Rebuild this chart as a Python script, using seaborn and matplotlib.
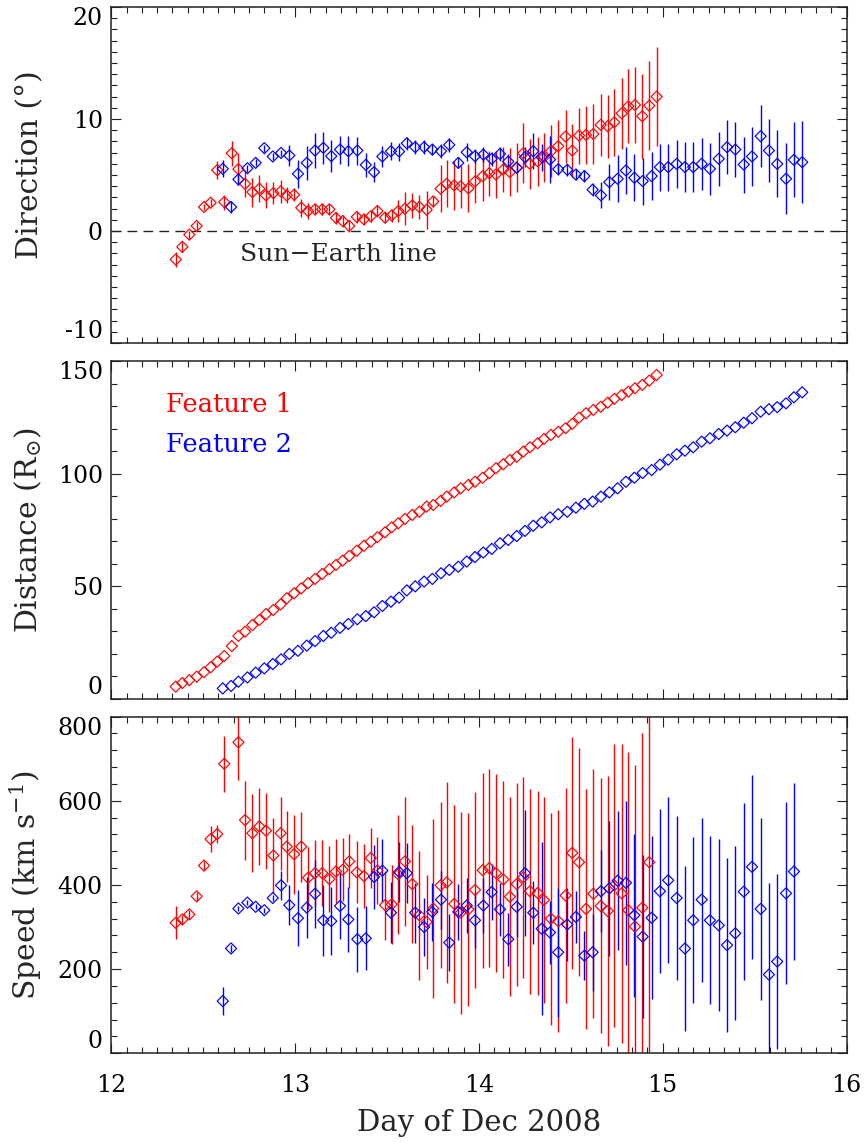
import numpy as np
import pandas as pd
import matplotlib
matplotlib.use("Agg")
import matplotlib.pyplot as plt
from matplotlib.ticker import MultipleLocator
import seaborn as sns

nan = np.nan

# time of each sample, day of Dec 2008
t1 = [12.351, 12.387, 12.425, 12.465, 12.505, 12.541, 12.577, 12.615, 12.656, 12.692,
      12.728, 12.768, 12.806, 12.842, 12.882, 12.922, 12.955, 12.995, 13.034, 13.071,
      13.109, 13.148, 13.187, 13.223, 13.259, 13.295, 13.336, 13.375, 13.412, 13.448,
      13.490, 13.526, 13.562, 13.598, 13.638, 13.676, 13.716, 13.752, 13.792, 13.825,
      13.866, 13.901, 13.943, 13.979, 14.021, 14.057, 14.093, 14.133, 14.169, 14.206,
      14.242, 14.278, 14.320, 14.354, 14.392, 14.432, 14.472, 14.508, 14.545, 14.583,
      14.623, 14.663, 14.701, 14.737, 14.777, 14.813, 14.849, 14.889, 14.927, 14.967]
t2 = [12.607, 12.652, 12.692, 12.741, 12.786, 12.833, 12.879, 12.924, 12.969, 13.016,
      13.064, 13.109, 13.154, 13.197, 13.245, 13.290, 13.339, 13.385, 13.430, 13.475,
      13.522, 13.566, 13.608, 13.654, 13.702, 13.747, 13.794, 13.839, 13.888, 13.934,
      13.979, 14.024, 14.070, 14.115, 14.160, 14.206, 14.251, 14.296, 14.342, 14.387,
      14.432, 14.481, 14.528, 14.574, 14.619, 14.664, 14.710, 14.755, 14.800, 14.846,
      14.891, 14.940, 14.985, 15.030, 15.076, 15.121, 15.166, 15.212, 15.257, 15.305,
      15.350, 15.395, 15.441, 15.486, 15.533, 15.578, 15.623, 15.671, 15.714, 15.759]

# direction (deg)
dir1 = [-2.55, -1.42, -0.33, 0.45, 2.14, 2.52, 5.43, 2.58, 6.94, 5.52,
        4.21, 3.47, 3.77, 3.18, 3.38, 3.53, 3.18, 3.23, 2.08, 1.78,
        1.93, 1.93, 1.93, 1.16, 0.89, 0.45, 1.25, 1.04, 1.31, 1.78,
        1.19, 1.39, 1.78, 1.99, 2.28, 2.14, 1.90, 2.64, 3.77, 4.21,
        4.07, 3.98, 3.80, 4.42, 4.90, 5.16, 5.04, 5.49, 5.25, 5.64,
        6.94, 5.99, 6.23, 6.59, 7.12, 7.57, 8.43, 7.18, 8.52, 8.58,
        8.66, 9.47, 9.35, 9.70, 10.50, 11.13, 11.25, 10.24, 11.19, 11.99]
dir1_err = [0.67, 0.45, 0.37, 0.37, 0.30, 0.30, 0.80, 0.67, 1.10, 1.40,
            1.20, 1.30, 1.20, 1.15, 0.95, 1.05, 0.70, 0.60, 0.80, 0.75,
            0.50, 0.50, 0.50, 0.50, 0.50, 0.55, 0.55, 0.50, 0.50, 0.50,
            0.50, 0.60, 1.00, 1.50, 1.10, 1.05, 1.70, 0.50, 2.10, 2.10,
            2.20, 1.90, 2.15, 1.90, 2.20, 2.00, 2.10, 2.00, 2.15, 2.20,
            2.70, 2.20, 2.20, 2.20, 2.30, 2.30, 2.40, 2.40, 2.50, 2.60,
            2.70, 2.80, 2.80, 3.00, 3.20, 3.30, 3.40, 3.80, 4.00, 4.40]
dir2 = [5.55, 2.14, 4.60, 5.60, 6.08, 7.39, 6.65, 6.97, 6.74, 5.10,
        6.08, 7.18, 7.42, 6.68, 7.27, 7.12, 7.18, 5.90, 5.25, 6.65,
        7.12, 7.09, 7.83, 7.48, 7.48, 7.27, 7.12, 7.69, 6.08, 7.03,
        6.68, 6.82, 6.44, 6.88, 6.20, 5.64, 6.59, 7.12, 6.59, 6.38,
        5.52, 5.46, 5.04, 4.90, 3.68, 3.18, 4.36, 4.66, 5.40, 4.75,
        4.45, 4.90, 5.70, 5.70, 5.99, 5.70, 5.70, 5.99, 5.55, 6.44,
        7.48, 7.27, 5.93, 6.65, 8.46, 7.18, 5.99, 4.66, 6.35, 6.14]
dir2_err = [0.77, 0.50, 0.50, 0.30, 0.30, 0.30, 0.30, 0.30, 0.90, 1.25,
            1.55, 1.60, 1.45, 1.40, 1.25, 1.35, 1.25, 1.10, 0.90, 0.95,
            0.80, 0.80, 0.60, 0.60, 0.60, 0.50, 0.60, 0.65, 0.50, 0.80,
            0.60, 0.65, 0.65, 0.60, 0.65, 0.35, 0.90, 1.60, 1.20, 2.10,
            0.50, 0.55, 0.50, 0.55, 0.60, 1.15, 1.60, 2.10, 2.10, 2.10,
            2.10, 2.15, 2.10, 2.10, 2.15, 2.20, 2.20, 2.30, 2.30, 2.40,
            2.40, 2.45, 2.50, 2.60, 2.75, 2.85, 3.00, 3.15, 3.35, 3.65]

# distance (solar radii)
dist1 = [5.5, 7.1, 8.4, 9.9, 11.9, 14.1, 16.6, 19.1, 23.5, 28.0,
         29.9, 32.8, 35.1, 37.7, 39.5, 42.0, 44.7, 46.9, 49.1, 51.4,
         53.3, 55.5, 57.6, 59.5, 61.4, 63.5, 65.8, 68.0, 69.8, 71.8,
         74.0, 76.2, 78.0, 79.9, 81.7, 83.1, 85.4, 86.1, 87.9, 89.8,
         91.7, 93.5, 95.0, 96.4, 98.2, 100.2, 102.4, 104.2, 106.1, 107.5,
         109.8, 111.7, 113.5, 115.4, 117.2, 118.6, 120.2, 122.1, 124.9, 126.8,
         128.3, 129.7, 131.5, 133.2, 134.9, 136.4, 137.9, 139.4, 141.3, 143.8]
dist2 = [4.7, 5.8, 7.7, 9.6, 11.7, 13.6, 15.5, 17.6, 20.0, 21.4,
         23.7, 25.7, 28.0, 29.4, 31.6, 33.3, 35.4, 36.8, 38.5, 41.3,
         43.2, 45.0, 48.2, 50.0, 52.1, 53.3, 55.8, 57.3, 58.7, 61.0,
         63.0, 65.0, 66.6, 69.1, 70.6, 72.3, 74.6, 76.9, 78.4, 80.6,
         82.0, 83.1, 84.9, 86.6, 87.6, 89.8, 91.7, 93.5, 96.4, 98.2,
         100.3, 101.6, 104.0, 106.2, 108.6, 110.2, 111.7, 114.2, 115.7, 117.6,
         119.1, 120.6, 122.6, 124.6, 127.5, 128.6, 129.5, 131.2, 133.9, 136.1]

# speed (km/s)
spd1 = [310, 318, 330, 373, 446, 509, 521, 688, nan, 739,
        554, 523, 539, 529, 470, 523, 491, 473, 491, 417,
        428, 428, 414, 432, 436, 456, 430, 421, 464, 434,
        352, 354, 425, 456, 402, 328, 312, 344, 399, 406,
        355, 334, 342, 388, 435, 440, 428, 413, 372, 402,
        418, 385, 381, 364, 320, 314, 375, 476, 454, 343,
        379, 350, 338, 399, 380, 340, 301, 346, 454, nan]
spd1_err = [39, 10, 10, 10, 10, 31, 21, 67, nan, 90,
            94, 93, 91, 90, 89, 87, 85, 94, 83, 74,
            79, 79, 78, 76, 75, 64, 74, 76, 71, 80,
            82, 94, 142, 153, 140, 153, 112, 213, 197, 238,
            236, 240, 229, 234, 232, 235, 236, 233, 236, 241,
            238, 244, 243, 245, 252, 263, 255, 276, 271, 285,
            296, 303, 320, 336, 356, 376, 383, 415, 450, nan]
spd2 = [124, 249, 344, 358, 348, 340, 369, 399, 352, 321,
        346, 379, 316, 314, 350, 318, 271, 273, 419, 434,
        334, 431, 428, 334, 300, 336, 365, 263, 336, 351,
        316, 351, 383, 342, 271, 348, 428, 334, 296, 287,
        240, 306, 324, 232, 240, 385, 392, 410, 405, 328,
        277, 322, 385, 411, 369, 249, 316, 365, 316, 304,
        257, 285, 384, 443, 343, 187, 218, 380, 432, nan]
spd2_err = [33, 8, 6, 6, 6, 6, 8, 35, 47, 67,
            73, 81, 85, 80, 78, 77, 77, 76, 75, 74,
            72, 72, 71, 71, 70, 69, 69, 67, 67, 65,
            67, 66, 66, 63, 63, 71, 149, 75, 205, 74,
            153, 87, 62, 58, 92, 98, 160, 165, 195, 194,
            193, 194, 195, 197, 195, 197, 197, 195, 200, 204,
            207, 207, 210, 219, 216, 217, 208, 216, 210, nan]

feat1 = pd.DataFrame({"day": t1, "dir": dir1, "dir_err": dir1_err,
                      "dist": dist1, "spd": spd1, "spd_err": spd1_err})
feat2 = pd.DataFrame({"day": t2, "dir": dir2, "dir_err": dir2_err,
                      "dist": dist2, "spd": spd2, "spd_err": spd2_err})

RED = "#ff0000"
BLUE = "#0000ff"
AXC = "#222222"

sns.set_style("ticks")
plt.rcParams["font.family"] = ["DejaVu Serif"]
plt.rcParams["mathtext.fontset"] = "dejavuserif"
plt.rcParams["axes.unicode_minus"] = False


def draw_series(ax, df, col, err, color):
    if err is not None:
        ax.errorbar(df["day"], df[col], yerr=df[err], fmt="none",
                    ecolor=color, elinewidth=1.0, capsize=0, zorder=2)
    sns.scatterplot(data=df, x="day", y=col, ax=ax, marker="D", s=32,
                    color=color, facecolors="none", edgecolor=color,
                    linewidth=0.85, legend=False, zorder=3)


def style_axis(ax, ymin, ymax, ymajor, yminor, ylabel, show_x):
    ax.set_xlim(12, 16)
    ax.set_ylim(ymin, ymax)
    ax.xaxis.set_major_locator(MultipleLocator(1))
    ax.xaxis.set_minor_locator(MultipleLocator(1 / 12))
    ax.set_yticks(np.arange(ymin, ymax + ymajor / 2, ymajor))
    ax.yaxis.set_minor_locator(MultipleLocator(yminor))
    ax.tick_params(which="both", direction="in", top=True, right=True,
                   color=AXC, width=0.8, labelsize=17, labelcolor="black")
    ax.tick_params(which="major", length=7)
    ax.tick_params(which="minor", length=4)
    ax.tick_params(axis="y", pad=6)
    ax.tick_params(axis="x", pad=15)
    for sp in ax.spines.values():
        sp.set_visible(True)
        sp.set_color(AXC)
        sp.set_linewidth(1.1)
    ax.set_ylabel(ylabel, fontsize=21.5)
    ax.yaxis.set_label_coords(-0.092, 0.5)
    ax.set_xlabel("")
    if not show_x:
        ax.tick_params(axis="x", labelbottom=False)


fig = plt.figure(figsize=(8.66, 11.42), dpi=100)
ax1 = fig.add_axes([0.1284, 0.6997, 0.8491, 0.2942])
ax2 = fig.add_axes([0.1284, 0.3879, 0.8491, 0.2960])
ax3 = fig.add_axes([0.1284, 0.0777, 0.8491, 0.2948])

# direction
ax1.axhline(0, color=AXC, lw=1.0, ls=(0, (7, 4.5)), zorder=1)
draw_series(ax1, feat1, "dir", "dir_err", RED)
draw_series(ax1, feat2, "dir", "dir_err", BLUE)
ax1.text(12.70, -2.7, "Sun\u2212Earth line", fontsize=18, va="baseline", ha="left")
style_axis(ax1, -10, 20, 10, 1, "Direction (\u00b0)", False)
ax1.yaxis.set_label_coords(-0.092, 0.53)

# distance
draw_series(ax2, feat1, "dist", None, RED)
draw_series(ax2, feat2, "dist", None, BLUE)
ax2.text(12.30, 127.5, "Feature 1", color=RED, fontsize=18.5, va="baseline")
ax2.text(12.30, 109.8, "Feature 2", color=BLUE, fontsize=18.5, va="baseline")
style_axis(ax2, 0, 150, 50, 10, r"Distance (R$_{\odot}$)", False)

# speed
draw_series(ax3, feat1, "spd", "spd_err", RED)
draw_series(ax3, feat2, "spd", "spd_err", BLUE)
style_axis(ax3, 0, 800, 200, 40, r"Speed (km s$^{-1}$)", True)
ax3.set_xlabel("Day of Dec 2008", fontsize=21)
ax3.xaxis.set_label_coords(0.5, -0.165)

# keep the end labels inside the frame, like the original
fig.canvas.draw()
for ax in (ax1, ax2, ax3):
    ticks = ax.yaxis.get_major_ticks()
    ticks[0].label1.set_verticalalignment("bottom")
    ticks[-1].label1.set_verticalalignment("top")

fig.savefig("out.png", dpi=100)
